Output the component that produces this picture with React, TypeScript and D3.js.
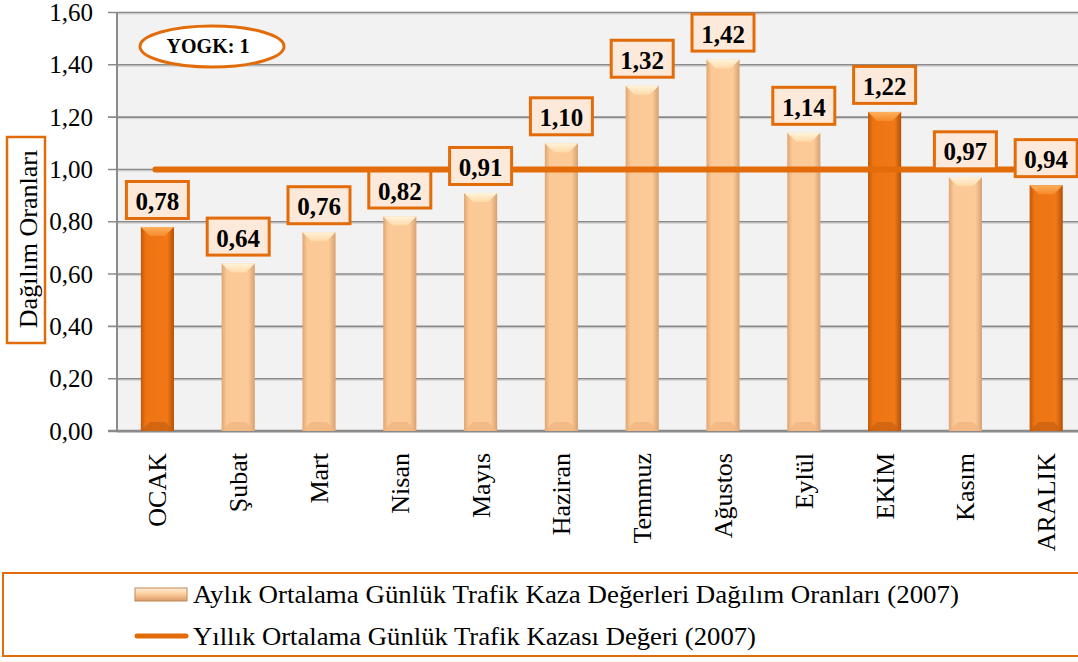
import * as d3 from "d3";
import React from "react";

const months = ["OCAK", "Şubat", "Mart", "Nisan", "Mayıs", "Haziran", "Temmuz", "Ağustos", "Eylül", "EKİM", "Kasım", "ARALIK"];
const ratios = [0.78, 0.64, 0.76, 0.82, 0.91, 1.1, 1.32, 1.42, 1.14, 1.22, 0.97, 0.94];
const highlighted = ["OCAK", "EKİM", "ARALIK"];
const yearlyMean = 1;
const yTicks = [0, 0.2, 0.4, 0.6, 0.8, 1.0, 1.2, 1.4, 1.6];
const barLegend = "Aylık Ortalama Günlük Trafik Kaza Değerleri  Dağılım Oranları (2007)";
const lineLegend = "Yıllık Ortalama Günlük Trafik Kazası Değeri (2007)";

const W = 1078;
const H = 662;
const left = 117;
const top = 12.5;
const bottom = 431;
const bandRight = left + 12 * 80.8;
const ORANGE = "#E36C0A";
const tf = { fontFamily: "Liberation Serif" };

const fmt = (v: number) => v.toFixed(2).replace(".", ",");

export default function App() {
  const x = d3.scaleBand().domain(months).range([left, bandRight]).paddingInner(0.59).paddingOuter(0.295);
  const y = d3.scaleLinear().domain([0, 1.6]).range([bottom, top]);
  const bw = x.bandwidth();
  const cx = (m: string) => (x(m) as number) + bw / 2;

  return (
    <svg width={W} height={H} style={{ position: "absolute", left: 0, top: 0, background: "#fff" }}>
      <defs>
        <linearGradient id="darkBar" x1="0" x2="1" y1="0" y2="0">
          <stop offset="0" stopColor="#C25808" />
          <stop offset="0.15" stopColor="#EE7412" />
          <stop offset="0.8" stopColor="#F07816" />
          <stop offset="1" stopColor="#B45006" />
        </linearGradient>
        <linearGradient id="lightBar" x1="0" x2="1" y1="0" y2="0">
          <stop offset="0" stopColor="#E0A572" />
          <stop offset="0.15" stopColor="#FBC996" />
          <stop offset="0.8" stopColor="#FCCA98" />
          <stop offset="1" stopColor="#D8A070" />
        </linearGradient>
        <linearGradient id="darkTop" x1="0" x2="0" y1="0" y2="1">
          <stop offset="0" stopColor="#FFB060" />
          <stop offset="1" stopColor="#F58A2A" />
        </linearGradient>
        <linearGradient id="lightTop" x1="0" x2="0" y1="0" y2="1">
          <stop offset="0" stopColor="#FFF4DA" />
          <stop offset="1" stopColor="#FFD9A8" />
        </linearGradient>
        <linearGradient id="legendBar" x1="0" x2="0" y1="0" y2="1">
          <stop offset="0" stopColor="#FFF0D8" />
          <stop offset="0.5" stopColor="#FBCB98" />
          <stop offset="1" stopColor="#D89A68" />
        </linearGradient>
      </defs>

      {/* plot area */}
      <rect x={left} y={top} width={W - left} height={bottom - top} fill="#F2F2F2" />
      {yTicks.map((t) => (
        <g key={t}>
          <line x1={left} x2={W} y1={y(t) + 1.5} y2={y(t) + 1.5} stroke="#D0D0D0" strokeWidth={1} />
          <line x1={left - 9} x2={W} y1={y(t)} y2={y(t)} stroke="#8A8A8A" strokeWidth={t === 0 ? 2.5 : 1.6} />
          <text x={93} y={y(t) + 8.5} textAnchor="end" fontSize={25} style={tf}>
            {fmt(t)}
          </text>
        </g>
      ))}
      <line x1={left} x2={left} y1={top} y2={bottom} stroke="#8A8A8A" strokeWidth={2} />

      {/* bars */}
      {months.map((m, i) => {
        const dark = highlighted.includes(m);
        const bx = x(m) as number;
        const by = y(ratios[i]);
        const bev = 9;
        return (
          <g key={m}>
            <rect x={bx} y={by} width={bw} height={bottom - by} fill={dark ? "url(#darkBar)" : "url(#lightBar)"} />
            <path
              d={`M${bx},${by} L${bx + bw},${by} L${bx + bw - bev},${by + bev} L${bx + bev},${by + bev} Z`}
              fill={dark ? "url(#darkTop)" : "url(#lightTop)"}
            />
            <path
              d={`M${bx},${bottom} L${bx + bw},${bottom} L${bx + bw - bev},${bottom - bev} L${bx + bev},${bottom - bev} Z`}
              fill={dark ? "#C86010" : "#F0B47E"}
              opacity={0.7}
            />
          </g>
        );
      })}

      {/* yearly mean line */}
      <line
        x1={cx(months[0]) - 2}
        x2={cx(months[months.length - 1])}
        y1={y(yearlyMean)}
        y2={y(yearlyMean)}
        stroke={ORANGE}
        strokeWidth={6}
        strokeLinecap="round"
      />

      {/* data labels */}
      {months.map((m, i) => {
        const by = y(ratios[i]);
        const c = cx(m);
        return (
          <g key={`l-${m}`}>
            <rect x={c - 31} y={by - 45.5} width={62} height={37} fill="#FDE9D9" stroke={ORANGE} strokeWidth={3} />
            <text x={c} y={by - 17} textAnchor="middle" fontSize={25} fontWeight="bold" style={tf}>
              {fmt(ratios[i])}
            </text>
          </g>
        );
      })}

      {/* x labels */}
      {months.map((m) => (
        <g key={`x-${m}`} transform={`translate(${cx(m) + 9},453) rotate(-90)`}>
          <text textAnchor="end" fontSize={26} style={tf}>
            {m}
          </text>
        </g>
      ))}

      {/* y title */}
      <rect x={7} y={137} width={38} height={206} fill="#fff" stroke={ORANGE} strokeWidth={2.5} />
      <g transform="translate(37,239) rotate(-90)">
        <text textAnchor="middle" fontSize={26} style={tf}>
          Dağılım  Oranları
        </text>
      </g>

      {/* YOGK ellipse */}
      <ellipse cx={212} cy={46.5} rx={72} ry={20.5} fill="#fff" stroke={ORANGE} strokeWidth={3} />
      <text x={208} y={53} textAnchor="middle" fontSize={20} fontWeight="bold" style={tf}>
        YOGK: 1
      </text>

      {/* legend */}
      <rect x={3} y={573} width={W + 4} height={83} fill="#fff" stroke={ORANGE} strokeWidth={2} />
      <rect x={135} y={588} width={52} height={13} fill="url(#legendBar)" stroke="#C08858" strokeWidth={1} />
      <text x={193} y={603} fontSize={26} textLength={766} lengthAdjust="spacingAndGlyphs" style={tf}>
        {barLegend}
      </text>
      <line x1={137} x2={186} y1={636} y2={636} stroke={ORANGE} strokeWidth={5} strokeLinecap="round" />
      <text x={193} y={645} fontSize={26} textLength={563} lengthAdjust="spacingAndGlyphs" style={tf}>
        {lineLegend}
      </text>
    </svg>
  );
}
